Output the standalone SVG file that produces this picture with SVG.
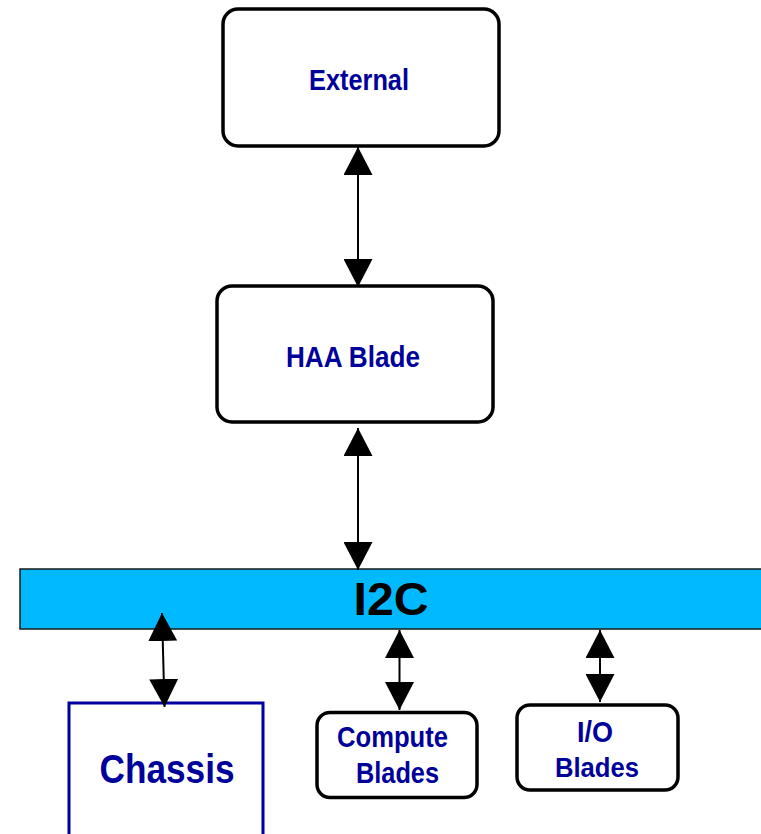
<svg xmlns="http://www.w3.org/2000/svg" width="761" height="834" viewBox="0 0 761 834">
  <style>
    .box { fill: #ffffff; stroke: #000000; stroke-width: 3.5; }
    .chassis { fill: #ffffff; stroke: #0000a0; stroke-width: 3; }
    .bus { fill: #00b9ff; stroke: #1a1a1a; stroke-width: 1.5; }
    .lbl { font-family: "Liberation Sans", Arial, sans-serif; font-weight: bold; fill: #00009a; text-anchor: middle; }
    .buslbl { font-family: "Liberation Sans", Arial, sans-serif; font-weight: bold; fill: #000000; text-anchor: middle; }
    .link { stroke: #000000; stroke-width: 2; fill: none; marker-start: url(#head); marker-end: url(#head); }
  </style>
  <defs>
    <marker id="head" markerUnits="userSpaceOnUse" markerWidth="28" markerHeight="29" refX="28" refY="14.5" orient="auto-start-reverse">
      <path d="M0,0 L28,14.5 L0,29 Z" fill="#000000"/>
    </marker>
  </defs>

  <rect width="761" height="834" fill="#ffffff"/>

  <g id="i2c">
    <rect class="bus" x="20" y="569" width="760" height="60"/>
    <text class="buslbl" x="391" y="615" font-size="46" textLength="75" lengthAdjust="spacingAndGlyphs">I2C</text>
  </g>

  <g id="external">
    <rect class="box" x="223" y="9" width="276" height="137" rx="15"/>
    <text class="lbl" x="359" y="90" font-size="30" textLength="100" lengthAdjust="spacingAndGlyphs">External</text>
  </g>

  <g id="haa-blade">
    <rect class="box" x="217" y="286" width="276" height="136" rx="15"/>
    <text class="lbl" x="353" y="367" font-size="30" textLength="134" lengthAdjust="spacingAndGlyphs">HAA Blade</text>
  </g>

  <g id="chassis">
    <rect class="chassis" x="69" y="703" width="194" height="145"/>
    <text class="lbl" x="167" y="783" font-size="40" textLength="135" lengthAdjust="spacingAndGlyphs">Chassis</text>
  </g>

  <g id="compute-blades">
    <rect class="box" x="317" y="712.5" width="160" height="85" rx="13"/>
    <text class="lbl" x="392.5" y="747" font-size="30" textLength="111" lengthAdjust="spacingAndGlyphs">Compute</text>
    <text class="lbl" x="397.5" y="783" font-size="29" textLength="83" lengthAdjust="spacingAndGlyphs">Blades</text>
  </g>

  <g id="io-blades">
    <rect class="box" x="517" y="705" width="161" height="85" rx="13"/>
    <text class="lbl" x="595" y="742" font-size="30" textLength="36" lengthAdjust="spacingAndGlyphs">I/O</text>
    <text class="lbl" x="597" y="777" font-size="28" textLength="84" lengthAdjust="spacingAndGlyphs">Blades</text>
  </g>

  <g id="connectors">
    <line class="link" x1="358" y1="147" x2="358" y2="287"/>
    <line class="link" x1="358" y1="428" x2="358" y2="570"/>
    <line class="link" x1="162" y1="613" x2="164.5" y2="707"/>
    <line class="link" x1="399.5" y1="630" x2="399.5" y2="710"/>
    <line class="link" x1="600" y1="630" x2="600" y2="702"/>
  </g>
</svg>
